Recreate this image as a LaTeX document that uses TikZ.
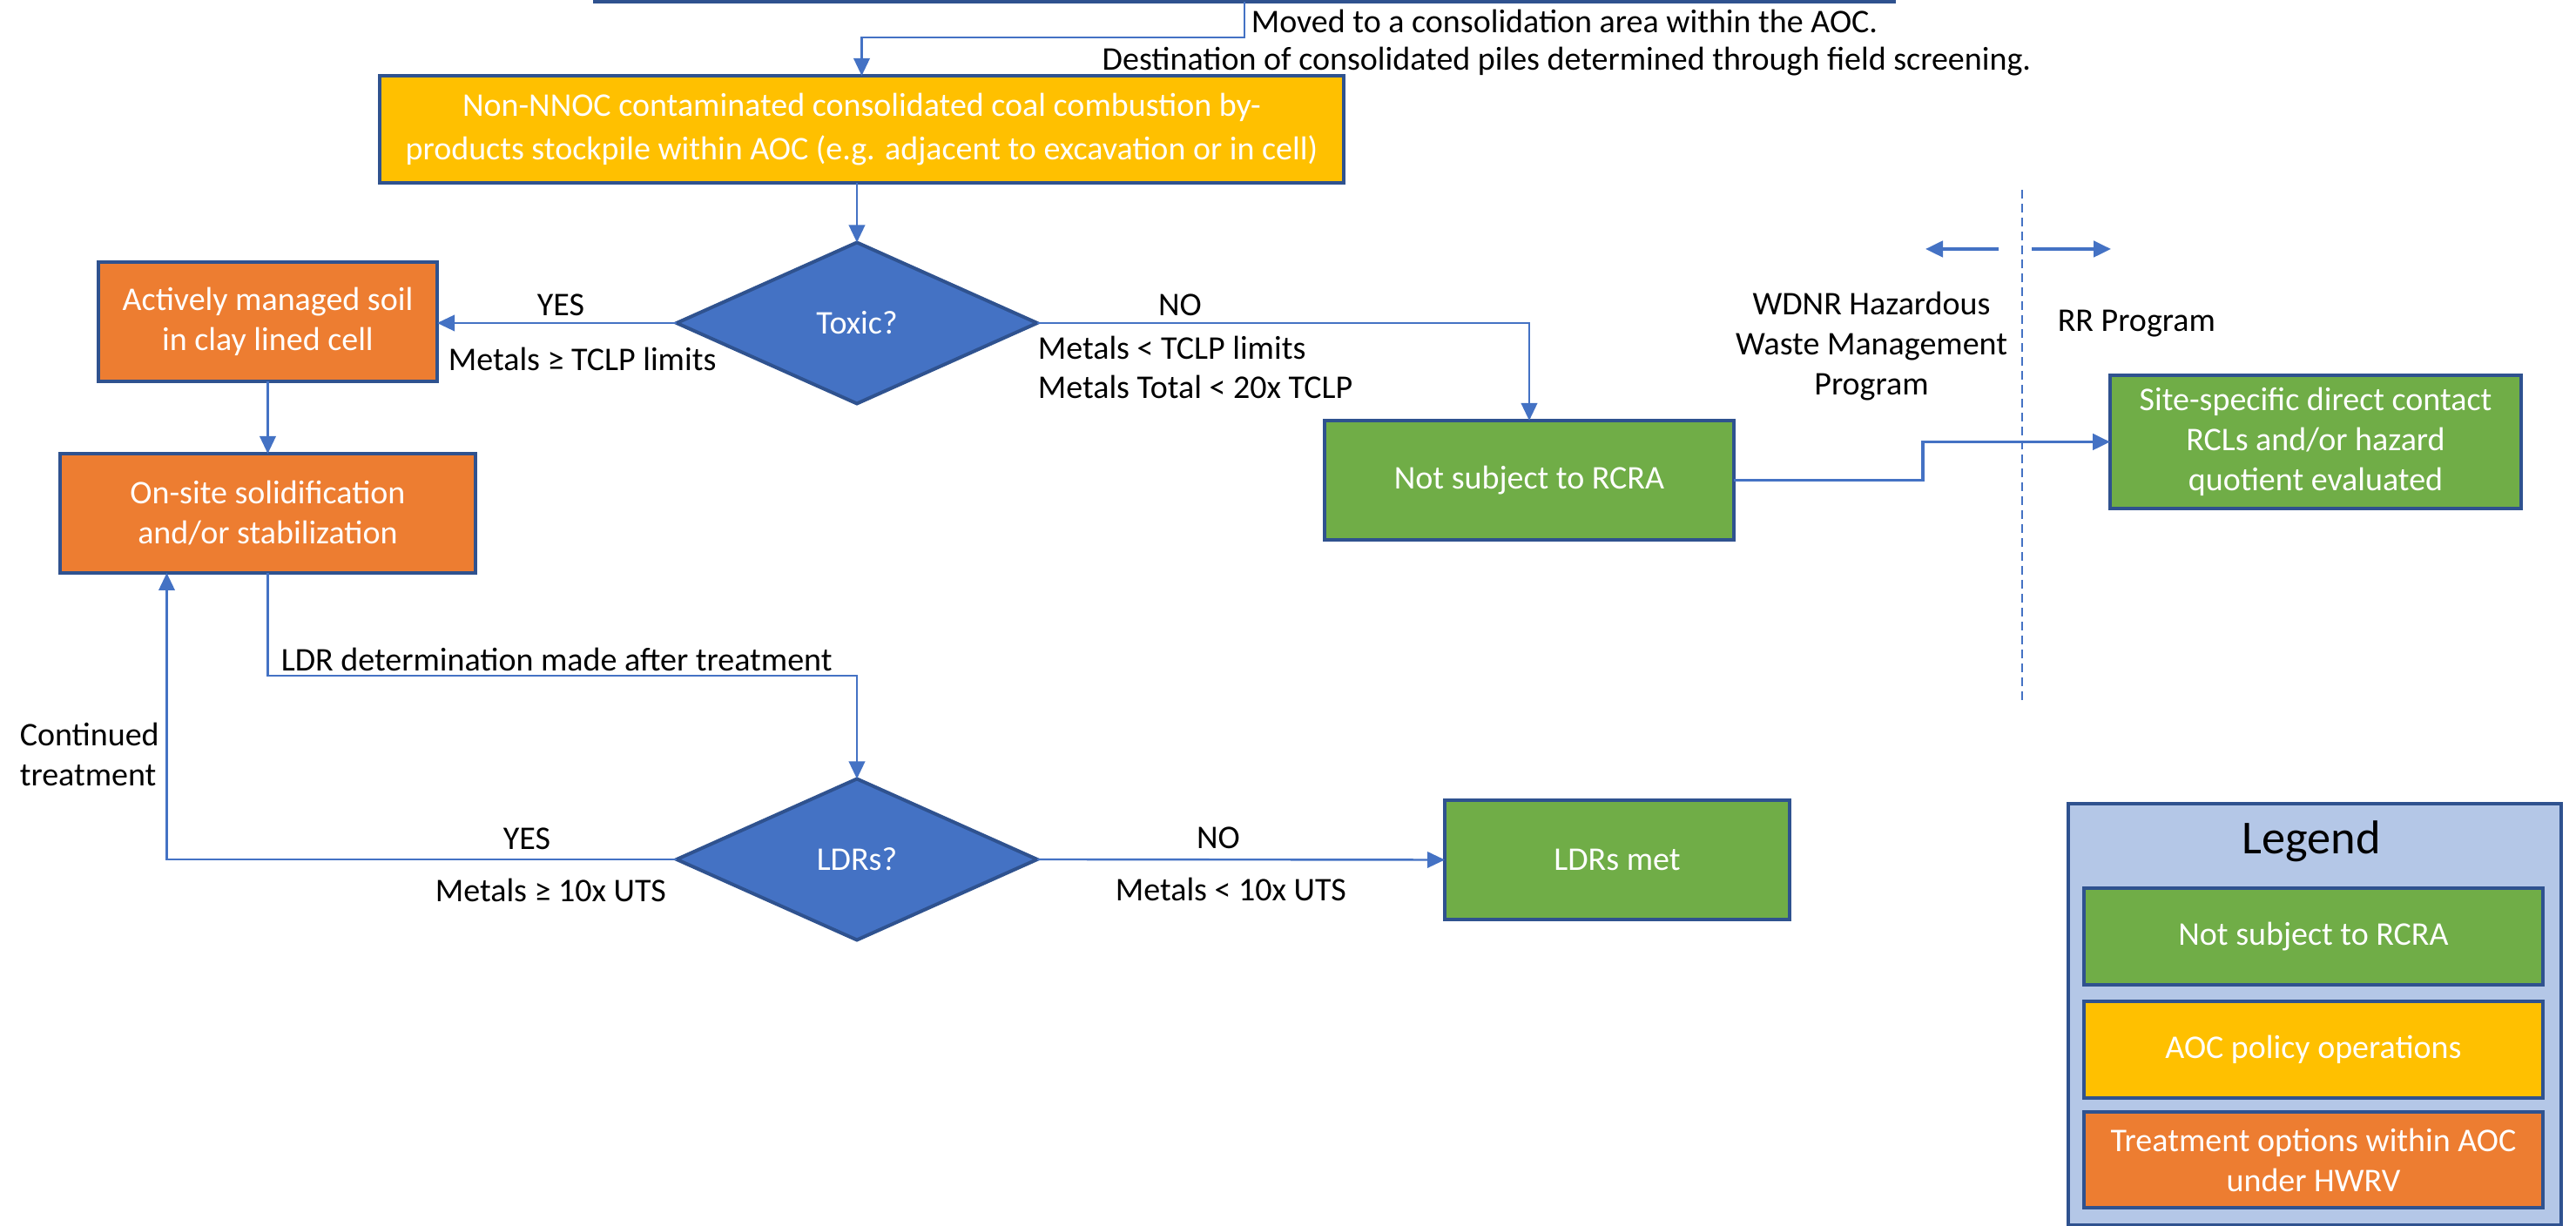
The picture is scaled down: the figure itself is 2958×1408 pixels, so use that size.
\documentclass[tikz,border=0pt]{standalone}
\usepackage{fontspec}
\setmainfont{Carlito}
\usetikzlibrary{shapes.geometric,arrows.meta}

\definecolor{boxline}{HTML}{2F528F}
\definecolor{flowblue}{HTML}{4472C4}
\definecolor{okgreen}{HTML}{70AD47}
\definecolor{aocyellow}{HTML}{FFC000}
\definecolor{treatorange}{HTML}{ED7D31}
\definecolor{legendfill}{HTML}{B4C7E7}

\begin{document}
% 1 unit = 1 px of a 2958 x 1408 canvas, y grows downwards
\begin{tikzpicture}[x=0.25pt,y=-0.25pt,
  txt/.style={font=\fontsize{9.5pt}{11.5pt}\selectfont},
  box/.style={txt, draw=boxline, line width=1pt, text=white, align=center,
    inner sep=0pt, outer sep=0pt},
  decision/.style={box, diamond, fill=flowblue, aspect=2.2,
    minimum width=103.5pt, minimum height=46.25pt},
  lbl/.style={txt, inner sep=0pt, text=black},
  conn/.style={draw=flowblue, line width=0.6pt,
    -{Triangle[length=5pt,width=4.6pt]}},
  heavy/.style={conn, line width=0.9pt},
  divider/.style={draw=flowblue, line width=0.6pt, dash pattern=on 2.6pt off 1.4pt}]

\useasboundingbox (0,0) rectangle (2958,1408);
\clip (0,0) rectangle (2958,1408);
\fill[white] (0,0) rectangle (2958,1408);

% ---- source box (only its lower edge lies on the sheet)
\node[box, fill=white, line width=1.2pt, minimum width=373pt, minimum height=21pt]
  (src) at (1429,-40) {};

% ---- process boxes
\node[box, fill=aocyellow, font=\fontsize{9.5pt}{12.4pt}\selectfont,
  minimum width=276.75pt, minimum height=30.75pt]
  (yel) at (989.5,148.5)
  {Non-NNOC contaminated consolidated coal combustion by-\\
   products stockpile within AOC (e.g. adjacent to excavation or in cell)};

\node[decision] (tox) at (984,371) {Toxic?};

\node[box, fill=treatorange, minimum width=97.25pt, minimum height=34.25pt]
  (act) at (307.5,369.5) {Actively managed soil\\in clay lined cell};

\node[box, fill=treatorange, minimum width=119.25pt, minimum height=34.25pt]
  (sol) at (307.5,589.5) {On-site solidification\\and/or stabilization};

\node[box, fill=okgreen, minimum width=117.5pt, minimum height=34.25pt]
  (nsr) at (1756,551.5) {Not subject to RCRA};

\node[box, fill=okgreen, minimum width=118pt, minimum height=38.25pt]
  (site) at (2659,507.5)
  {Site-specific direct contact\\RCLs and/or hazard\\quotient evaluated};

\node[decision] (ldr) at (984,987) {LDRs?};

\node[box, fill=okgreen, minimum width=99pt, minimum height=34.25pt]
  (met) at (1857,987.5) {LDRs met};

% ---- connectors
\draw[conn] (src.south) -- ++(0,41) -| (yel.north);
\draw[conn] (yel.south -| tox.north) -- (tox.north);
\draw[conn] (tox.west) -- (act.east |- tox.west);
\draw[conn] (tox.east) -| (nsr.north);
\draw[heavy] (nsr.east) -- ++(217,0) |- (site.west);
\draw[conn] (act.south) -- (sol.north);
\draw[conn] (sol.south) -- ++(0,118) -| (ldr.north);
\draw[conn] (ldr.west) -| ([xshift=-29pt]sol.south);
\draw[conn] (ldr.east) -- (met.west);

% ---- programme divider
\coordinate (divtop) at (2322,218);
\coordinate (divbot) at (2322,808);
\draw[divider] (divtop) -- (divbot);
\coordinate (lefttail) at (2295,286);
\coordinate (lefthead) at (2211,286);
\coordinate (righttail) at (2333,286);
\coordinate (righthead) at (2424,286);
\draw[heavy] (lefttail) -- (lefthead);
\draw[heavy] (righttail) -- (righthead);

% ---- labels
\node[lbl, anchor=west] (lmoved) at (1436,24)
  {Moved to a consolidation area within the AOC.};
\node[lbl, anchor=east] (ldest) at (2333,71)
  {Destination of consolidated piles determined through field screening.};

\node[lbl] (lyes1) at (644,350) {YES};
\node[lbl, anchor=west] (lmet1) at (514,412) {Metals ≥ TCLP limits};
\node[lbl] (lno1) at (1355,350) {NO};
\node[lbl, anchor=west] (lmet2) at (1191,399) {Metals < TCLP limits};
\node[lbl, anchor=west] (lmet3) at (1191,444) {Metals Total < 20x TCLP};

\node[lbl, align=center] (lwdnr) at (2149,398)
  {WDNR Hazardous\\Waste Management\\Program};
\node[lbl, anchor=west] (lrr) at (2362,372) {RR Program};

\node[lbl, anchor=west] (lldr) at (322,757) {LDR determination made after treatment};
\node[lbl, anchor=west, align=left] (lcont) at (22,866) {Continued\\treatment};
\node[lbl] (lyes2) at (605,963) {YES};
\node[lbl, anchor=west] (lmet4) at (499,1022) {Metals ≥ 10x UTS};
\node[lbl] (lno2) at (1399,962) {NO};
\node[lbl, anchor=west] (lmet5) at (1280,1021) {Metals < 10x UTS};

% ---- legend
\node[draw=boxline, line width=1pt, fill=legendfill, inner sep=0pt,
  minimum width=141.5pt, minimum height=121pt] (leg) at (2658,1165) {};
\node[lbl, font=\fontsize{13.6pt}{16pt}\selectfont] (legtitle) at (2654,966) {Legend};
\node[box, fill=okgreen, minimum width=131.75pt, minimum height=27.75pt]
  (leggreen) at (2656.5,1075.5) {Not subject to RCRA};
\node[box, fill=aocyellow, minimum width=131.75pt, minimum height=27.75pt]
  (legyellow) at (2656.5,1205.5) {AOC policy operations};
\node[box, fill=treatorange, minimum width=131.75pt, minimum height=27.5pt]
  (legorange) at (2656.5,1332) {Treatment options within AOC\\under HWRV};

\end{tikzpicture}
\end{document}
